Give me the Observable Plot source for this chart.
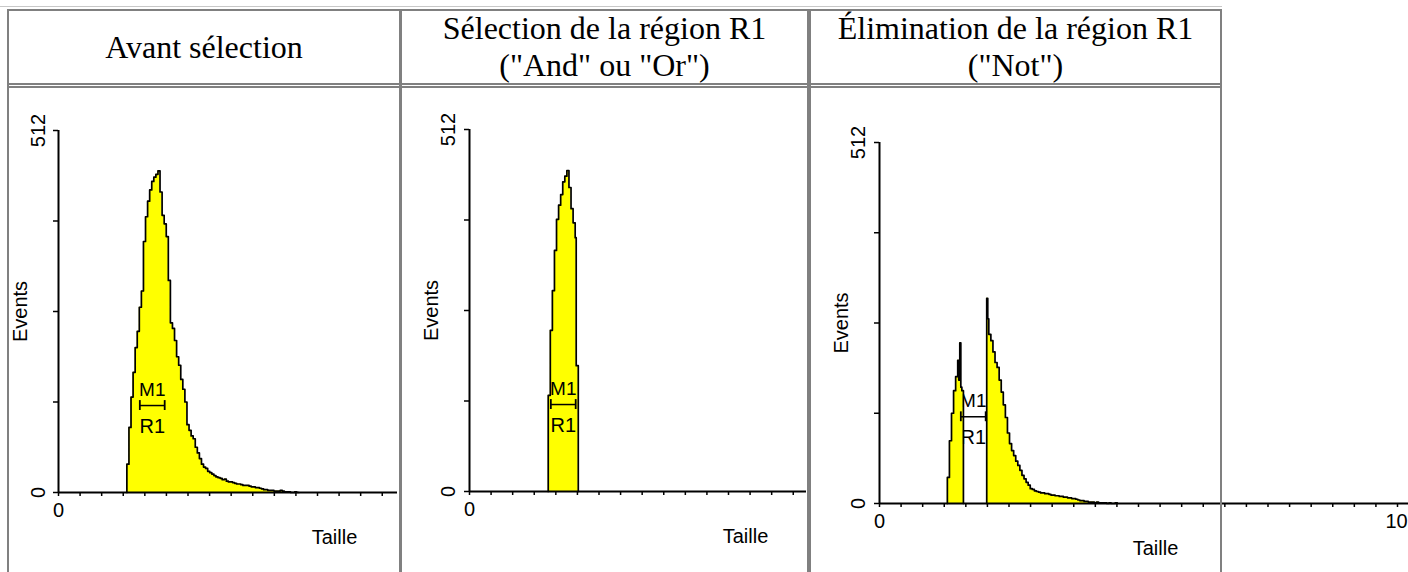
<!DOCTYPE html>
<html><head><meta charset="utf-8">
<script src="https://cdn.jsdelivr.net/npm/d3@7"></script>
<script src="https://cdn.jsdelivr.net/npm/@observablehq/plot@0.6"></script>
<style>
html,body{margin:0;padding:0;background:#fff;overflow:hidden;width:1408px;height:572px;}
#page{position:relative;width:1408px;height:572px;overflow:hidden;background:#fff;}
.ln{position:absolute;background:#808080;z-index:5;}
.head{position:absolute;display:flex;align-items:center;justify-content:center;text-align:center;
  font-family:"Liberation Serif","Times New Roman",serif;font-size:32px;line-height:37px;color:#000;white-space:pre;}
.panel{position:absolute;z-index:1;}
</style></head>
<body><div id="page"></div>
<script>
// ---------- texts ----------
const headerTexts = [
  "Avant sélection",
  "Sélection de la région R1\n(\"And\" ou \"Or\")",
  "Élimination de la région R1\n(\"Not\")"
];
const xTitle = "Taille";
const yTitle = "Events";
const yTickValues = [0, 128, 256, 384, 512];
const yLabelValues = [0, 512];
const yLabelTexts = ["0", "512"];
const xLabelValues = [0, 1000];
const xLabelTexts = ["0", "1000"];
const markerName = "M1";
const regionName = "R1";
const markerRange = [157, 205];
const markerLevel = 123;

// ---------- histogram data (channel, events) ----------
const p1Channels = [132,136,140,144,148,152,156,160,164,168,172,176,180,184,188,192,196,200,204,208,212,216,220,224,228,232,236,240,244,248,252,256,260,264,268,272,276,280,284,288,292,296,300,304,308,312,316,320,324,328,332,336,340,344,348,352,356,360,364,368,372,376,380,384,388,392,396,400,404,408,412,416,420,424,428,432,436,440,444,448,452,456,460,464];
const p1Counts   = [40,92,135,170,205,228,262,285,355,390,412,428,440,446,450,455,425,392,380,362,300,240,232,215,192,180,160,146,128,96,88,80,76,64,56,48,40,36,34,30,28,26,24,22,21,20,18,19,16,15,15,14,13,12,12,11,10,10,10,9,8,8,7,7,6,5,4,4,3,3,3,2,2,2,3,2,1,1,1,0,0,1,0,0];

const p2Channels = [152,156,160,164,168,172,176,180,184,188,192,196,200,204,206,210];
const p2Counts   = [136,228,284,341,385,405,420,438,446,454,430,400,380,359,178,0];

const p3aChannels = [131,135,139,143,147,151,153,155,157,159,162];
const p3aCounts   = [37,89,128,160,180,203,175,228,165,160,0];

const p3bChannels = [207,209,211,215,219,223,227,231,235,239,243,247,251,255,259,263,267,271,275,279,283,287,291,295,299,303,307,311,315,319,323,327,331,335,339,343,347,351,355,359,363,367,371,375,379,383,387,391,395,399,403,407,411,415,419,423,427,431,435,439,443,447,451,455,459];
const p3bCounts   = [291,262,240,231,215,200,193,175,158,140,122,100,85,75,68,60,54,47,40,35,30,26,21,20,18,17,16,15,15,14,14,13,12,12,11,11,10,10,9,9,8,8,7,7,6,5,4,4,3,3,2,2,2,1,2,1,1,1,1,0,1,0,0,1,0];

function rows(ch, n) {
  const r = [{c: ch[0], n: 0}];
  ch.forEach((c, i) => r.push({c, n: n[i]}));
  r.push({c: ch[ch.length - 1], n: 0});
  return r;
}

// ---------- page frame (table look) ----------
const page = document.getElementById("page");
function line(x, y, w, h, color) {
  const d = document.createElement("div");
  d.className = "ln";
  Object.assign(d.style, {left: x + "px", top: y + "px", width: w + "px", height: h + "px"});
  if (color) d.style.background = color;
  page.appendChild(d);
}
line(0, 6, 1222, 1, "#c8c8c8");
const cellsX = [[7, 401], [400, 809], [809, 1222]];
cellsX.forEach(([a, b]) => {
  line(a, 9, 2, 77); line(b - 2, 9, 2, 77);
  line(a, 9, b - a, 2); line(a, 83, b - a, 2);
  line(a, 86, 2, 500); line(b - 2, 86, 2, 500);
  line(a, 86, b - a, 2);
});
const headBoxes = [[9, 399], [402, 807], [811, 1220]];
headerTexts.forEach((t, i) => {
  const d = document.createElement("div");
  d.className = "head";
  const [a, b] = headBoxes[i];
  Object.assign(d.style, {left: a + "px", top: "11px", width: (b - a) + "px", height: "72px"});
  d.textContent = t;
  page.appendChild(d);
});

// ---------- panels ----------
const FONT = '"Liberation Sans", Arial, Helvetica, sans-serif';
const PX_PER_UNIT = 0.518;
const FS = 20;

function panel(cfg) {
  const frameW = cfg.width - cfg.mL - cfg.mR;
  const xMax = frameW / PX_PER_UNIT;
  const xTicks = d3.range(0, xMax + 1e-6, 1000 / 24);
  const labels = xLabelValues.map((v, i) => ({v, t: xLabelTexts[i]})).filter(d => d.v <= xMax);
  const firstLab = labels.filter(d => d.v === 0);
  const otherLab = labels.filter(d => d.v !== 0);
  const yLabs = yLabelValues.map((v, i) => ({v, t: yLabelTexts[i]}));
  const mid = (markerRange[0] + markerRange[1]) / 2;

  const markerText = [
    Plot.text([markerName], {x: () => mid, y: () => markerLevel, dy: -16, fontSize: 19, fill: "#000", lineAnchor: "middle", textAnchor: "middle"}),
    Plot.text([regionName], {x: () => mid, y: () => markerLevel, dy: 21, fontSize: 20, fill: "#000", lineAnchor: "middle", textAnchor: "middle"})
  ];
  const markerBar = [
    Plot.ruleY([markerLevel], {x1: markerRange[0], x2: markerRange[1], stroke: "#000", strokeWidth: 1.5}),
    Plot.ruleX(markerRange, {y1: markerLevel - 7, y2: markerLevel + 7, stroke: "#000", strokeWidth: 1.8})
  ];
  const hists = cfg.hists.flatMap(r => [
    Plot.areaY(r, {x: "c", y: "n", curve: "step-after", fill: "#ffff00"}),
    Plot.lineY(r, {x: "c", y: "n", curve: "step-after", stroke: "#000", strokeWidth: 1.7})
  ]);

  const marks = [
    ...(cfg.textFirst ? markerText : []),
    ...hists,
    Plot.ruleY([0], {stroke: "#000", strokeWidth: 2}),
    Plot.ruleX([0], {stroke: "#000", strokeWidth: 2}),
    Plot.axisX({ticks: xTicks, tickSize: 4, tickFormat: () => "", label: null, stroke: "#000", strokeWidth: 1.5}),
    Plot.axisY({ticks: yTickValues, tickSize: 5, tickFormat: () => "", label: null, stroke: "#000", strokeWidth: 1.5}),
    Plot.text(firstLab, {x: "v", text: "t", frameAnchor: "bottom", dy: 18, fontSize: FS, fill: "#000", lineAnchor: "middle", textAnchor: "middle"}),
    Plot.text(otherLab, {x: "v", text: "t", frameAnchor: "bottom", dy: 18, dx: -12, fontSize: FS, fill: "#000", lineAnchor: "middle", textAnchor: "start"}),
    Plot.text(yLabs, {y: "v", text: "t", frameAnchor: "left", dx: cfg.yLabDx, rotate: -90, fontSize: FS, fill: "#000", lineAnchor: "middle", textAnchor: "middle"}),
    Plot.text([yTitle], {frameAnchor: "left", dx: -38, rotate: -90, fontSize: FS, fill: "#000", lineAnchor: "middle", textAnchor: "middle"}),
    Plot.text([xTitle], {frameAnchor: "bottom-left", dx: 276, dy: 45, fontSize: FS, fill: "#000", lineAnchor: "middle", textAnchor: "middle"}),
    ...markerBar,
    ...(cfg.textFirst ? [] : markerText)
  ];

  const svg = Plot.plot({
    width: cfg.width, height: cfg.height,
    marginLeft: cfg.mL, marginRight: cfg.mR, marginTop: cfg.mT, marginBottom: cfg.mB,
    x: {domain: [0, xMax], axis: null},
    y: {domain: [0, 512], axis: null},
    style: {background: "transparent", overflow: "visible", maxWidth: "none", fontFamily: FONT, color: "#000"},
    marks
  });
  const wrap = document.createElement("div");
  wrap.className = "panel";
  Object.assign(wrap.style, {left: cfg.left + "px", top: cfg.top + "px", width: cfg.width + "px", height: cfg.height + "px"});
  wrap.appendChild(svg);
  page.appendChild(wrap);
}

panel({left: 10, top: 88, width: 389, height: 484, mL: 48, mR: 2, mT: 42, mB: 80,
  yLabDx: -20, hists: [rows(p1Channels, p1Counts)]});
panel({left: 403, top: 88, width: 404, height: 484, mL: 66, mR: 1, mT: 41, mB: 81,
  yLabDx: -21, hists: [rows(p2Channels, p2Counts)]});
panel({left: 812, top: 88, width: 640, height: 484, mL: 67, mR: 10, mT: 54, mB: 69,
  yLabDx: -21, textFirst: true, hists: [rows(p3aChannels, p3aCounts), rows(p3bChannels, p3bCounts)]});
</script>
</body></html>
